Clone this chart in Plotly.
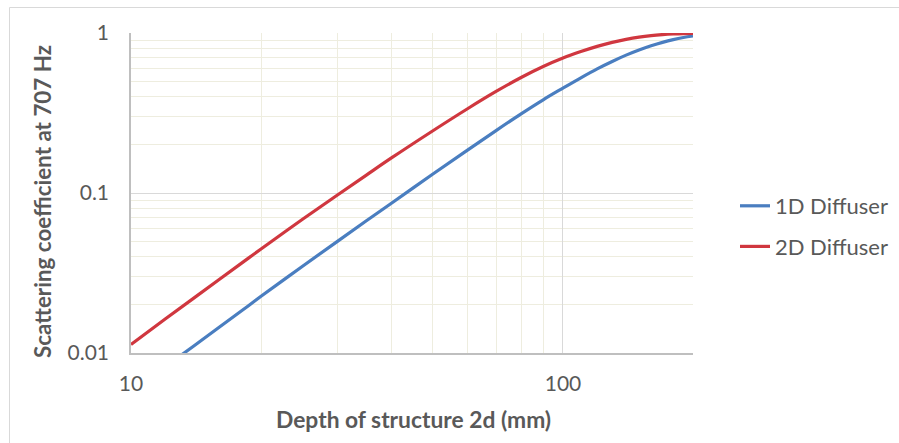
import plotly.graph_objects as go

# Depth of structure 2d (mm)
depth = [10, 12, 14, 16, 18, 20, 25, 30, 35, 40, 50, 60, 70, 80, 90, 100,
         110, 120, 130, 140, 150, 160, 170, 180, 190, 200]
# Scattering coefficient at 707 Hz
s_1d = [0.0057, 0.0082, 0.0111, 0.0145, 0.0183, 0.0226, 0.0350, 0.0497, 0.0668,
        0.0860, 0.1315, 0.1845, 0.2455, 0.3125, 0.3825, 0.4525, 0.525, 0.597,
        0.664, 0.727, 0.783, 0.832, 0.874, 0.909, 0.937, 0.958]
s_2d = [0.0113, 0.0163, 0.0221, 0.0288, 0.0363, 0.0447, 0.0688, 0.0969, 0.129,
        0.165, 0.245, 0.335, 0.431, 0.527, 0.617, 0.697, 0.765, 0.825, 0.874,
        0.913, 0.943, 0.964, 0.978, 0.987, 0.992, 0.994]

x_major = [10, 100]
x_major_text = ["10", "100"]
x_minor = [20, 30, 40, 50, 60, 70, 80, 90, 200]
y_major = [0.01, 0.1, 1]
y_major_text = ["0.01", "0.1", "1"]
y_minor = [0.02, 0.03, 0.04, 0.05, 0.06, 0.07, 0.08, 0.09,
           0.2, 0.3, 0.4, 0.5, 0.6, 0.7, 0.8, 0.9]

FONT = "Lato"
GREY = "#595959"

fig = go.Figure()
fig.add_trace(go.Scatter(x=depth, y=s_1d, mode="lines", name="1D Diffuser",
                         line=dict(color="#4A7EC0", width=3.2, shape="spline"),
                         legendgroup="a"))
fig.add_trace(go.Scatter(x=depth, y=s_2d, mode="lines", name="2D Diffuser",
                         line=dict(color="#D0373F", width=3.2, shape="spline"),
                         legendgroup="b"))

W, H = 899, 443
L, R, T, B = 131, 206, 33, 90
pw, ph = W - L - R, H - T - B

def px(x):
    return (x - L) / pw

def py(y):
    return (H - B - y) / ph

fig.update_xaxes(type="log", range=[1, 2.30103], tickvals=x_major, ticktext=x_major_text,
                 showgrid=True, gridcolor="#D9D9D9", gridwidth=1,
                 minor=dict(tickvals=x_minor, showgrid=True, gridcolor="#EEEDDF", gridwidth=1, ticks=""),
                 showline=True, linecolor="#BFBFBF", linewidth=1.5, ticks="",
                 tickfont=dict(family=FONT, size=21, color=GREY), ticklabelstandoff=11,
                 zeroline=False, fixedrange=True)
fig.update_yaxes(type="log", range=[-2, 0], tickvals=y_major, ticktext=y_major_text,
                 showgrid=True, gridcolor="#D9D9D9", gridwidth=1,
                 minor=dict(tickvals=y_minor, showgrid=True, gridcolor="#EEEDDF", gridwidth=1, ticks=""),
                 showline=True, linecolor="#BFBFBF", linewidth=1.5, ticks="",
                 tickfont=dict(family=FONT, size=21, color=GREY), ticklabelstandoff=16,
                 zeroline=False, fixedrange=True)

fig.add_annotation(text="<b>Depth of structure 2d (mm)</b>", xref="paper", yref="paper",
                   x=px(413.5), y=py(419), xanchor="center", yanchor="middle",
                   showarrow=False, font=dict(family=FONT, size=22.8, color=GREY))
fig.add_annotation(text="<b>Scattering coefficient at 707 Hz</b>", xref="paper", yref="paper",
                   x=px(42), y=py(202), xanchor="center", yanchor="middle", textangle=-90,
                   showarrow=False, font=dict(family=FONT, size=22.4, color=GREY))

fig.add_shape(type="rect", xref="paper", yref="paper",
              x0=px(9.5), x1=px(910), y0=py(455), y1=py(7.5),
              line=dict(color="#D9D9D9", width=1), layer="below")

fig.update_layout(
    width=W, height=H, margin=dict(l=L, r=R, t=T, b=B, autoexpand=False),
    paper_bgcolor="white", plot_bgcolor="white",
    font=dict(family=FONT, color=GREY),
    legend=dict(xref="container", yref="paper", x=735 / W, y=py(226.5),
                xanchor="left", yanchor="middle", traceorder="grouped",
                tracegroupgap=9, font=dict(family=FONT, size=22, color=GREY),
                bgcolor="rgba(0,0,0,0)"),
    showlegend=True,
)

fig.write_html("out.html")
